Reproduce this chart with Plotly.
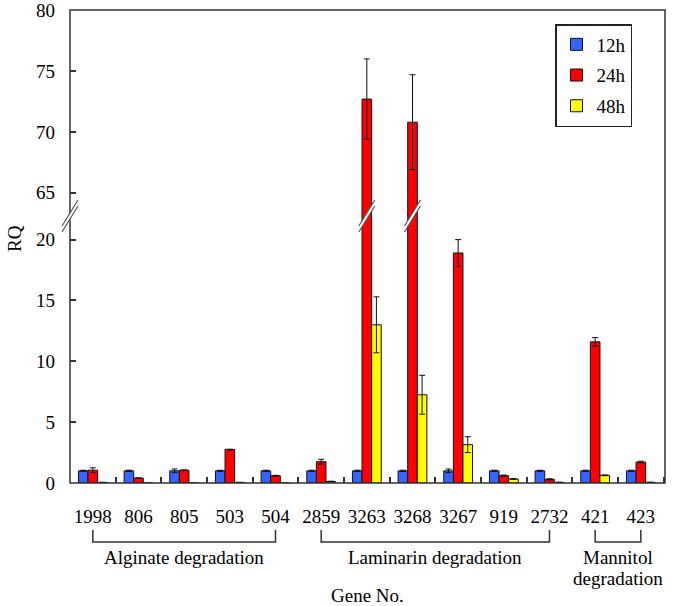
import plotly.graph_objects as go

# ---------------- data ----------------
genes = ["1998", "806", "805", "503", "504", "2859", "3263", "3268",
         "3267", "919", "2732", "421", "423"]
rq_12h = [1.0, 1.0, 1.0, 1.0, 1.0, 1.0, 1.0, 1.0, 1.0, 1.0, 1.0, 1.0, 1.0]
err_12h = [0.05, 0.05, 0.15, 0.05, 0.05, 0.05, 0.05, 0.05, 0.15, 0.05, 0.05, 0.05, 0.05]
rq_24h = [1.05, 0.4, 1.05, 2.75, 0.6, 1.75, 72.7, 70.8, 18.9, 0.6, 0.3, 11.6, 1.72]
err_24h = [0.2, 0.03, 0.03, 0.03, 0.03, 0.2, 3.3, 3.9, 1.1, 0.05, 0.05, 0.35, 0.07]
rq_48h = [0.05, 0.0, 0.0, 0.05, 0.0, 0.12, 13.0, 7.25, 3.15, 0.33, 0.05, 0.63, 0.05]
err_48h = [0.0, 0.0, 0.0, 0.0, 0.0, 0.03, 2.3, 1.6, 0.65, 0.03, 0.02, 0.03, 0.02]

series_names = ["12h", "24h", "48h"]
series_vals = [rq_12h, rq_24h, rq_48h]
series_errs = [err_12h, err_24h, err_48h]
colors = ["#3366FF", "#FF0000", "#FFFF00"]

group_labels = [["Alginate degradation"], ["Laminarin degradation"], ["Mannitol", "degradation"]]
group_start = ["1998", "2859", "421"]
group_end = ["504", "2732", "423"]

lower_ticks = [0, 5, 10, 15, 20]
upper_ticks = [65, 70, 75, 80]
lower_range = [0, 21.95]
upper_range = [63.1, 80.02]

# ---------------- layout geometry ----------------
W, H = 675, 606
ML, MT, MR, MB = 70, 10, 10, 123
PW, PH = W - ML - MR, H - MT - MB
split = (lower_range[1] - lower_range[0]) / (
    (lower_range[1] - lower_range[0]) + (upper_range[1] - upper_range[0]))

def px(x):  # pixel x -> paper
    return (x - ML) / PW

def py(y):  # pixel y -> paper
    return (H - MB - y) / PH

FONT = "Liberation Serif, Times New Roman, Times, serif"
FS = 19
EDGE = "#333333"
tf = dict(family=FONT, size=FS, color="black")

fig = go.Figure()
for axis_y, show in (("y", True), ("y2", False)):
    for name, vals, errs, col in zip(series_names, series_vals, series_errs, colors):
        fig.add_trace(go.Bar(
            x=genes, y=vals, name=name, yaxis=axis_y, xaxis="x",
            marker=dict(color=col, line=dict(color="#111111", width=1)),
            error_y=dict(type="data", array=errs, visible=True,
                         color="#111111", thickness=1, width=3),
            showlegend=show, legendgroup=name,
        ))

# outer frame
shapes = [dict(type="rect", xref="paper", yref="paper", x0=0, x1=1, y0=0, y1=1,
               line=dict(color=EDGE, width=1.5), layer="above")]

# axis break marks
cat_px = PW / len(genes)
def break_mark(xref, cx, to_x):
    yc = 216
    def P(dx, dy):
        return cx + to_x(dx), py(yc + dy)
    a, b = P(-8, 16), P(8, -10)
    d, c = P(-8, 10), P(8, -16)
    out = [dict(type="path", xref=xref, yref="paper", layer="above",
                path=f"M {a[0]},{a[1]} L {b[0]},{b[1]} L {c[0]},{c[1]} L {d[0]},{d[1]} Z",
                fillcolor="white", line=dict(width=0))]
    for p1, p2 in ((a, b), (d, c)):
        out.append(dict(type="line", xref=xref, yref="paper", layer="above",
                        x0=p1[0], y0=p1[1], x1=p2[0], y1=p2[1],
                        line=dict(color="#555555", width=1.2)))
    return out

shapes += break_mark("paper", 0, lambda d: d / PW)
for g in ("3263", "3268"):
    shapes += break_mark("x", genes.index(g), lambda d: d / cat_px)

# group brackets
for s, e in zip(group_start, group_end):
    i0, i1 = genes.index(s), genes.index(e)
    shapes.append(dict(type="path", xref="x", yref="paper",
                       path=f"M {i0},{py(530)} L {i0},{py(542)} L {i1},{py(542)} L {i1},{py(530)}",
                       line=dict(color=EDGE, width=1.5)))

annotations = []
for s, e, lines in zip(group_start, group_end, group_labels):
    i0, i1 = genes.index(s), genes.index(e)
    for k, line in enumerate(lines):
        annotations.append(dict(x=(i0 + i1) / 2, xref="x", y=py(557 + 21 * k), yref="paper",
                                text=line, showarrow=False, xanchor="center",
                                yanchor="middle", font=tf))
annotations.append(dict(x=px(367), xref="paper", y=py(595), yref="paper", text="Gene No.",
                        showarrow=False, xanchor="center", yanchor="middle", font=tf))
annotations.append(dict(x=px(14), xref="paper", y=py(239), yref="paper", text="RQ",
                        textangle=-90, showarrow=False, xanchor="center",
                        yanchor="middle", font=tf))

fig.update_layout(
    width=W, height=H, autosize=False,
    margin=dict(l=ML, r=MR, t=MT, b=MB, autoexpand=False),
    paper_bgcolor="white", plot_bgcolor="white",
    barmode="group", bargap=0.37, bargroupgap=0,
    font=tf,
    xaxis=dict(type="category", anchor="y", showgrid=False, showline=False,
               ticks="inside", tickson="boundaries", ticklen=6, tickcolor=EDGE,
               tickwidth=1.5, ticklabelstandoff=20, tickangle=0, tickfont=tf,
               ticklabeloverflow="allow"),
    yaxis=dict(domain=[0, split], range=lower_range, tickvals=lower_ticks,
               showgrid=False, zeroline=False, showline=False, ticks="inside",
               ticklen=6, tickcolor=EDGE, tickwidth=1.5, ticklabelstandoff=14,
               tickfont=tf, ticklabeloverflow="allow"),
    yaxis2=dict(domain=[split, 1], range=upper_range, tickvals=upper_ticks,
                anchor="x", showgrid=False, zeroline=False, showline=False,
                ticks="inside", ticklen=6, tickcolor=EDGE, tickwidth=1.5,
                ticklabelstandoff=14, tickfont=tf, ticklabeloverflow="allow"),
    legend=dict(x=px(555), y=py(24), xanchor="left", yanchor="top",
                bgcolor="white", bordercolor="#222222", borderwidth=1.5,
                font=tf, tracegroupgap=3, traceorder="grouped"),
    shapes=shapes, annotations=annotations,
)

# remove the browser's default 8px page margin so the figure sits at the window origin
fig.write_html("out.html", config={"displayModeBar": False},
               post_script="document.body.style.margin='0';")
